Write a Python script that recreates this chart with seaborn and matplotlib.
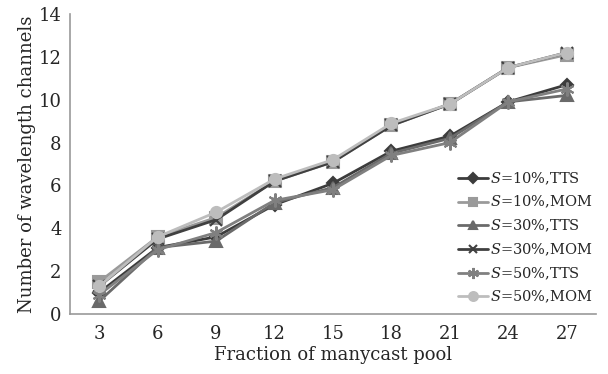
import matplotlib
matplotlib.use("Agg")
import matplotlib.pyplot as plt
import seaborn as sns
import pandas as pd

categories = [3, 6, 9, 12, 15, 18, 21, 24, 27]
s10_tts = [1.0, 3.1, 3.6, 5.1, 6.1, 7.6, 8.3, 9.9, 10.7]
s10_mom = [1.5, 3.6, 4.5, 6.2, 7.1, 8.8, 9.8, 11.5, 12.1]
s30_tts = [0.6, 3.1, 3.4, 5.2, 5.9, 7.5, 8.2, 9.9, 10.2]
s30_mom = [1.3, 3.5, 4.4, 6.2, 7.1, 8.8, 9.8, 11.5, 12.2]
s50_tts = [0.9, 3.0, 3.8, 5.3, 5.8, 7.4, 8.0, 9.9, 10.5]
s50_mom = [1.3, 3.6, 4.75, 6.3, 7.2, 8.9, 9.8, 11.5, 12.2]

names = ["$\\it{S}$=10%,TTS", "$\\it{S}$=10%,MOM", "$\\it{S}$=30%,TTS",
         "$\\it{S}$=30%,MOM", "$\\it{S}$=50%,TTS", "$\\it{S}$=50%,MOM"]
series = [s10_tts, s10_mom, s30_tts, s30_mom, s50_tts, s50_mom]

sns.set_theme(style="white")
plt.rcParams["font.family"] = ["DejaVu Serif"]
plt.rcParams["mathtext.fontset"] = "dejavuserif"

colors = ["#3c3c3c", "#9a9a9a", "#6a6a6a", "#404040", "#808080", "#bdbdbd"]
markers = ["D", "s", "^", "x", (6, 2, 0), "o"]
msizes = [6, 8, 8, 8, 10, 8]

fig = plt.figure(figsize=(6.08, 3.74), dpi=100)
ax = fig.add_axes([70/608, 60/374, 526/608, 300/374])

for n, vals, c, m, ms in zip(names, series, colors, markers, msizes):
    d = pd.DataFrame({"pos": range(len(categories)), "value": vals})
    sns.lineplot(data=d, x="pos", y="value", color=c, marker=m, markersize=ms,
                 markeredgecolor=c, markeredgewidth=1.5, linewidth=2.0,
                 label=n, ax=ax)

ax.set_xlim(-0.5, len(categories) - 0.5)
ax.set_ylim(0, 14)
ax.set_xticks(range(len(categories)))
ax.set_xticklabels([str(c) for c in categories])
ax.set_xticks([i + 0.5 for i in range(-1, len(categories))], minor=True)
ax.set_yticks(range(0, 15, 2))
ax.tick_params(axis="x", which="major", length=0, labelsize=13, pad=8)
ax.tick_params(axis="x", which="minor", direction="in", length=5, color="#999999", width=1)
ax.tick_params(axis="y", direction="in", length=5, color="#999999", width=1, labelsize=13, pad=6)
for side in ["top", "right"]:
    ax.spines[side].set_visible(False)
for side in ["left", "bottom"]:
    ax.spines[side].set_color("#999999")
    ax.spines[side].set_linewidth(1.2)

ax.set_xlabel("Fraction of manycast pool", fontsize=13, labelpad=2)
ax.set_ylabel("Number of wavelength channels", fontsize=13, labelpad=2)

handles, labels = ax.get_legend_handles_labels()
leg = ax.legend(handles, labels, loc="lower right", bbox_to_anchor=(1.01, 0.0),
                frameon=False, fontsize=10.5, handlelength=2.1, handletextpad=0.1,
                labelspacing=0.5, borderaxespad=0.2, markerscale=0.8)

fig.savefig("out.png", dpi=100)
